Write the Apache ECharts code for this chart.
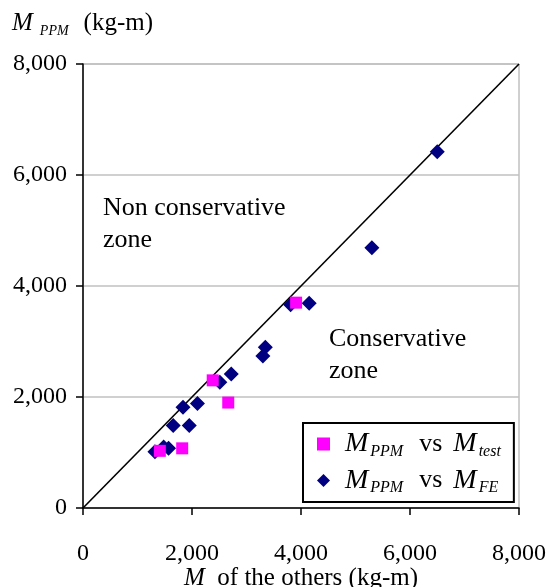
<!DOCTYPE html>
<html>
<head>
<meta charset="utf-8">
<script src="https://cdn.jsdelivr.net/npm/echarts@6/dist/echarts.min.js"></script>
<style>
html,body{margin:0;padding:0;background:#fff;}
#c{width:551px;height:587px;}
</style>
</head>
<body>
<div id="c"></div>
<script>
// ---- data ----
var seriesNames = ['M_PPM vs M_test', 'M_PPM vs M_FE'];
var testX = [1410, 1820, 2380, 2665, 3910];
var testY = [1030, 1075, 2300, 1900, 3700];
var feX = [1320, 1480, 1570, 1655, 1835, 1950, 2100, 2510, 2720, 3300, 3345, 3810, 4150, 5300, 6500];
var feY = [1015, 1100, 1075, 1485, 1815, 1485, 1885, 2265, 2415, 2740, 2895, 3660, 3690, 4690, 6420];
var diagX = [0, 8000];
var diagY = [0, 8000];
var axisTicks = [0, 2000, 4000, 6000, 8000];
var zoneLabels = ['Non conservative\nzone', 'Conservative\nzone'];

function zip(a, b) { return a.map(function (v, i) { return [v, b[i]]; }); }
function fmt(v) { return String(v).replace(/\B(?=(\d{3})+(?!\d))/g, ','); }

var FONT = '"Liberation Serif", "Times New Roman", serif';
var chart = echarts.init(document.getElementById('c'), null, { renderer: 'canvas' });

var axisCommon = {
  type: 'value',
  min: axisTicks[0],
  max: axisTicks[axisTicks.length - 1],
  interval: axisTicks[1] - axisTicks[0],
  axisLine: { show: true, onZero: false, lineStyle: { color: '#000', width: 1.5 } },
  axisTick: { show: true, inside: false, length: 7, lineStyle: { color: '#000', width: 1.5 } },
  axisLabel: { color: '#000', fontFamily: FONT, fontSize: 24, formatter: fmt }
};

var option = {
  backgroundColor: '#fff',
  animation: false,
  grid: { left: 83, right: 32, top: 64, bottom: 79, containLabel: false, outerBoundsMode: 'none', show: true, borderColor: '#a0a0a0', borderWidth: 1, backgroundColor: 'transparent' },
  xAxis: Object.assign({}, axisCommon, {
    axisLabel: Object.assign({}, axisCommon.axisLabel, { margin: 34 }),
    splitLine: { show: false },
    name: '{m|M}{t|  of the others (kg-m)}',
    nameLocation: 'middle',
    nameMoveOverlap: false,
    nameGap: 58,
    nameTextStyle: {
      color: '#000', fontFamily: FONT, fontSize: 25,
      rich: {
        m: { fontFamily: FONT, fontSize: 25, fontStyle: 'italic', color: '#000' },
        t: { fontFamily: FONT, fontSize: 25, color: '#000' }
      }
    }
  }),
  yAxis: Object.assign({}, axisCommon, {
    axisLabel: Object.assign({}, axisCommon.axisLabel, { margin: 16 }),
    splitLine: { show: true, lineStyle: { color: '#c0c0c0', width: 1.5 } }
  }),
  legend: {
    orient: 'vertical',
    left: 303,
    top: 423,
    padding: [7, 13, 6, 14],
    itemGap: 7,
    itemWidth: 13,
    itemHeight: 13,
    borderColor: '#000',
    borderWidth: 2,
    backgroundColor: '#fff',
    data: [seriesNames[0], seriesNames[1]],
    formatter: function (name) {
      return name === seriesNames[0]
        ? '{m1|M}{s|PPM}{v|vs}{m|M}{s2|test}'
        : '{m1|M}{s|PPM}{v|vs}{m|M}{s2|FE}';
    },
    textStyle: {
      fontFamily: FONT, color: '#000', fontSize: 26,
      rich: {
        m1: { fontFamily: FONT, fontSize: 28, fontStyle: 'italic', color: '#000', lineHeight: 31, padding: [0, 0, 0, 10] },
        m: { fontFamily: FONT, fontSize: 28, fontStyle: 'italic', color: '#000', lineHeight: 31 },
        s: { fontFamily: FONT, fontSize: 16, fontStyle: 'italic', color: '#000', lineHeight: 31, verticalAlign: 'bottom', padding: [0, 16, 0, 2] },
        s2: { fontFamily: FONT, fontSize: 16, fontStyle: 'italic', color: '#000', lineHeight: 31, verticalAlign: 'bottom', padding: [0, 0, 0, 2] },
        v: { fontFamily: FONT, fontSize: 26, color: '#000', lineHeight: 31, padding: [0, 11, 0, 0] }
      }
    }
  },
  graphic: [
    {
      type: 'text', left: 12, top: 11,
      style: {
        text: '{m|M}{s|PPM}{t|(kg-m)}',
        rich: {
          m: { fontFamily: FONT, fontSize: 25, fontStyle: 'italic', fill: '#000', lineHeight: 30 },
          s: { fontFamily: FONT, fontSize: 14, fontStyle: 'italic', fill: '#000', lineHeight: 30, verticalAlign: 'bottom', padding: [0, 15, 0, 7] },
          t: { fontFamily: FONT, fontSize: 25, fill: '#000', lineHeight: 30 }
        }
      }
    },
    {
      type: 'text', left: 103, top: 192,
      style: { text: zoneLabels[0], font: '26px ' + FONT, fill: '#000', lineHeight: 32 }
    },
    {
      type: 'text', left: 329, top: 323,
      style: { text: zoneLabels[1], font: '26px ' + FONT, fill: '#000', lineHeight: 32 }
    }
  ],
  series: [
    {
      name: 'diagonal',
      type: 'line',
      data: zip(diagX, diagY),
      showSymbol: false,
      symbol: 'none',
      lineStyle: { color: '#000', width: 1.6 },
      silent: true,
      z: 1
    },
    {
      name: seriesNames[1],
      type: 'scatter',
      symbol: 'diamond',
      symbolSize: 15,
      itemStyle: { color: '#000080', opacity: 1 },
      data: zip(feX, feY),
      z: 2
    },
    {
      name: seriesNames[0],
      type: 'scatter',
      symbol: 'rect',
      symbolSize: 12,
      itemStyle: { color: '#ff00ff', opacity: 1 },
      data: zip(testX, testY),
      z: 3
    }
  ]
};
chart.setOption(option);
</script>
</body>
</html>
